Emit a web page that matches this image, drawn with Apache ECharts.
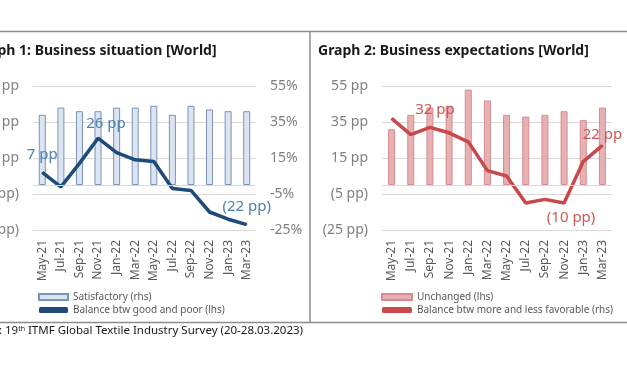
<!DOCTYPE html>
<html>
<head>
<meta charset="utf-8">
<script src="https://cdn.jsdelivr.net/npm/echarts@6/dist/echarts.min.js"></script>
<style>
  html, body { margin: 0; padding: 0; background: #fff; }
  #main { width: 627px; height: 376px; }
</style>
</head>
<body>
<div id="main"></div>
<script>
// categories (bi-monthly survey rounds)
var months = ['May-21', 'Jul-21', 'Sep-21', 'Nov-21', 'Jan-22', 'Mar-22', 'May-22', 'Jul-22', 'Sep-22', 'Nov-22', 'Jan-23', 'Mar-23'];

// graph 1: business situation
var satisfactory = [39, 43, 41, 41, 43, 43, 44, 39, 44, 42, 41, 41];      // % (rhs)
var balanceGoodPoor = [7, -1, 12, 26, 18, 14, 13, -2, -3, -15, -19, -22];  // pp (lhs)

// graph 2: business expectations
var unchanged = [31, 39, 43, 44, 53, 47, 39, 38, 39, 41, 36, 43];           // pp (lhs)
var balanceMoreLess = [37, 28, 32, 29, 24, 8, 5, -10, -8, -10, 13, 22];     // pp (rhs)

var font = 'Noto Sans';

function pp(v) {
  return v >= 0 ? v + ' pp' : '(' + (-v) + ' pp)';
}

var chart = echarts.init(document.getElementById('main'), null, { renderer: 'canvas' });

function valAxis(grid, pos, fmt, show) {
  return {
    type: 'value',
    gridIndex: grid,
    position: pos,
    min: -25,
    max: 55,
    interval: 20,
    axisLine: { show: false },
    axisTick: { show: false },
    splitLine: { show: pos === 'left', lineStyle: { color: '#d9d9d9', width: 1 } },
    axisLabel: {
      show: show,
      formatter: fmt,
      color: '#808080',
      fontFamily: font,
      fontSize: 14,
      margin: 14
    }
  };
}

function catAxis(grid) {
  return {
    type: 'category',
    gridIndex: grid,
    data: months,
    boundaryGap: true,
    axisLine: { show: false },
    axisTick: { show: false },
    axisLabel: {
      rotate: 90,
      interval: 0,
      color: '#595959',
      fontFamily: font,
      fontSize: 12,
      margin: 10
    }
  };
}

var zeroLine = {
  silent: true,
  symbol: 'none',
  label: { show: false },
  lineStyle: { color: '#d9d9d9', type: 'solid', width: 1 },
  data: [{ yAxis: 0 }]
};

var option = {
  animation: false,
  textStyle: { fontFamily: font },
  grid: [
    { left: 33, top: 86, width: 223, height: 144, containLabel: false, outerBoundsMode: 'none' },
    { left: 382, top: 86, width: 230, height: 144, containLabel: false, outerBoundsMode: 'none' }
  ],
  xAxis: [catAxis(0), catAxis(1)],
  yAxis: [
    valAxis(0, 'left', pp, true),
    valAxis(0, 'right', '{value}%', true),
    valAxis(1, 'left', pp, true),
    valAxis(1, 'right', pp, false)
  ],
  legend: [
    {
      orient: 'vertical',
      left: 38,
      top: 292,
      padding: 0,
      itemWidth: 29,
      itemHeight: 6,
      itemGap: 3,
      textStyle: { color: '#595959', fontFamily: font, fontSize: 10 },
      data: [{ name: 'Satisfactory (rhs)', icon: 'rect' }, { name: 'Balance btw good and poor (lhs)', icon: 'roundRect' }]
    },
    {
      orient: 'vertical',
      left: 381,
      top: 292,
      padding: 0,
      itemWidth: 30,
      itemHeight: 6,
      itemGap: 3,
      textStyle: { color: '#595959', fontFamily: font, fontSize: 10 },
      data: [{ name: 'Unchanged (lhs)', icon: 'rect' }, { name: 'Balance btw more and less favorable (rhs)', icon: 'roundRect' }]
    }
  ],
  series: [
    {
      name: 'Satisfactory (rhs)',
      type: 'bar',
      xAxisIndex: 0,
      yAxisIndex: 1,
      barWidth: 7,
      data: satisfactory,
      itemStyle: { color: '#dbe5f1', borderColor: '#7a93b8', borderWidth: 1 },
      markLine: zeroLine
    },
    {
      name: 'Balance btw good and poor (lhs)',
      type: 'line',
      xAxisIndex: 0,
      yAxisIndex: 0,
      symbol: 'circle',
      symbolSize: 1,
      showSymbol: true,
      lineStyle: { color: '#1f4a7a', width: 3.5 },
      itemStyle: { color: '#1f4a7a' },
      data: balanceGoodPoor.map(function (v, i) {
        var show = i === 0 || i === 3 || i === balanceGoodPoor.length - 1;
        return {
          value: v,
          label: {
            show: show,
            position: 'top',
            distance: i === 3 ? 6 : 10,
            offset: i === 3 ? [8, 0] : [0, 0],
            formatter: function (p) { return pp(p.value); },
            color: '#4f7fb3',
            fontFamily: font,
            fontSize: 15
          }
        };
      })
    },
    {
      name: 'Unchanged (lhs)',
      type: 'bar',
      xAxisIndex: 1,
      yAxisIndex: 2,
      barWidth: 7,
      data: unchanged,
      itemStyle: { color: '#e6b1b3', borderColor: '#d98a8e', borderWidth: 1 },
      markLine: zeroLine
    },
    {
      name: 'Balance btw more and less favorable (rhs)',
      type: 'line',
      xAxisIndex: 1,
      yAxisIndex: 3,
      symbol: 'circle',
      symbolSize: 1,
      showSymbol: true,
      lineStyle: { color: '#c9494a', width: 3.5 },
      itemStyle: { color: '#c9494a' },
      data: balanceMoreLess.map(function (v, i) {
        var show = i === 2 || i === 9 || i === balanceMoreLess.length - 1;
        var lbl = {
          show: show,
          position: 'top',
          distance: 10,
          formatter: function (p) { return pp(p.value); },
          color: '#d05555',
          fontFamily: font,
          fontSize: 15
        };
        if (i === 2) { lbl.offset = [5, 0]; }
        if (i === 9) { lbl.position = 'bottom'; lbl.distance = 7; lbl.offset = [7, 0]; }
        if (i === balanceMoreLess.length - 1) { lbl.distance = 3; }
        return { value: v, label: lbl };
      })
    }
  ],
  graphic: [
    { type: 'line', shape: { x1: 0, y1: 31.5, x2: 627, y2: 31.5 }, style: { stroke: '#8c8c8c', lineWidth: 1.5 } },
    { type: 'line', shape: { x1: 0, y1: 322.5, x2: 627, y2: 322.5 }, style: { stroke: '#8c8c8c', lineWidth: 1.5 } },
    { type: 'line', shape: { x1: 310, y1: 31.5, x2: 310, y2: 322.5 }, style: { stroke: '#8c8c8c', lineWidth: 1.5 } },
    {
      type: 'text', left: -27, top: 44,
      style: { text: 'Graph 1: Business situation [World]', fill: '#1a1a1a', font: 'bold 14px "Noto Sans"' }
    },
    {
      type: 'text', left: 318, top: 44,
      style: { text: 'Graph 2: Business expectations [World]', fill: '#1a1a1a', font: 'bold 14px "Noto Sans"' }
    },
    {
      type: 'text', left: -38, top: 325,
      style: {
        text: 'Source: 19{sup|th} ITMF Global Textile Industry Survey (20-28.03.2023)',
        fill: '#1a1a1a',
        font: '11.5px "Noto Sans"',
        rich: { sup: { fontSize: 7, fontFamily: font, verticalAlign: 'top', fill: '#1a1a1a' } }
      }
    }
  ]
};

chart.setOption(option);
</script>
</body>
</html>
